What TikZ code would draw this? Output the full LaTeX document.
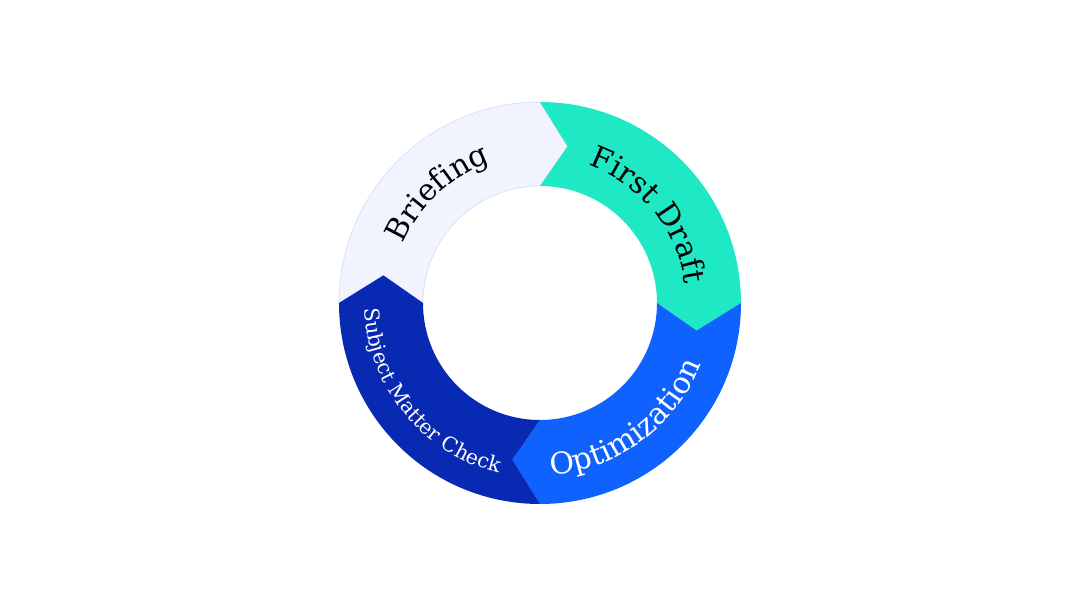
\documentclass[tikz,border=0pt]{standalone}
\usepackage{fontspec}
\setmainfont{DejaVu Serif}
\usetikzlibrary{decorations.text}
\definecolor{briefcol}{HTML}{F1F4FE}
\definecolor{briefline}{HTML}{D6DFFA}
\definecolor{draftcol}{HTML}{1FE8C5}
\definecolor{optcol}{HTML}{0F62FE}
\definecolor{smccol}{HTML}{0829B2}
\newcommand\bigtxt{\fontsize{30pt}{30pt}\selectfont}
\newcommand\smalltxt{\fontsize{20.5pt}{20.5pt}\selectfont}
\tikzset{
  segment/.style={draw=none},
  arclabel/.style={decorate, decoration={text along path, text align=center, text color=#1}},
}
\begin{document}
\begin{tikzpicture}
\useasboundingbox (-540pt,-304pt) rectangle (540pt,303pt);
\fill[white] (-540pt,-304pt) rectangle (540pt,303pt);
\coordinate (c) at (0,0);
% Briefing
\path[segment, fill=briefcol, draw=briefline, line width=0.7pt]
  (180:201pt) arc[start angle=180, end angle=90, radius=201pt] -- (80:159pt) -- (90:117pt)
  arc[start angle=90, end angle=180, radius=117pt] -- (170:159pt) -- cycle;
% First Draft
\path[segment, fill=draftcol]
  (90:201pt) arc[start angle=90, end angle=0, radius=201pt] -- (-10:159pt) -- (0:117pt)
  arc[start angle=0, end angle=90, radius=117pt] -- (80:159pt) -- cycle;
% Optimization
\path[segment, fill=optcol]
  (0:201pt) arc[start angle=0, end angle=-90, radius=201pt] -- (-100:159pt) -- (-90:117pt)
  arc[start angle=-90, end angle=0, radius=117pt] -- (-10:159pt) -- cycle;
% Subject Matter Check
\path[segment, fill=smccol]
  (-90:201pt) arc[start angle=-90, end angle=-180, radius=201pt] -- (-190:159pt) -- (-180:117pt)
  arc[start angle=-180, end angle=-90, radius=117pt] -- (-100:159pt) -- cycle;
% labels
\path[arclabel=black, decoration={text={|\bigtxt|Briefing}}]
  (178:149pt) arc[start angle=178, end angle=88, radius=149pt];
\path[arclabel=black, decoration={text={|\bigtxt|First Draft}}]
  (84:146pt) arc[start angle=84, end angle=-6, radius=146pt];
\path[arclabel=white, decoration={text={|\bigtxt|Optimization}}]
  (-100:172pt) arc[start angle=-100, end angle=-7, radius=172pt];
\path[arclabel=white, decoration={text={|\smalltxt|Subject Matter Check}}]
  (172:175pt) arc[start angle=172, end angle=266, radius=175pt];
\end{tikzpicture}
\end{document}
